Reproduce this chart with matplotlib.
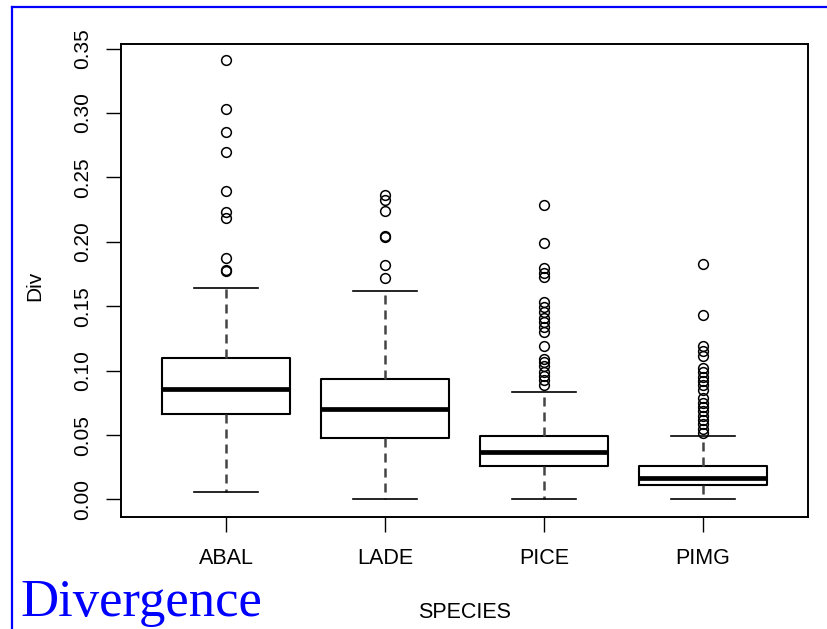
import matplotlib
matplotlib.use("Agg")
import matplotlib.pyplot as plt
from matplotlib.lines import Line2D

plt.rcParams["font.family"] = ["Liberation Sans", "DejaVu Sans"]
plt.rcParams["lines.scale_dashes"] = False

# Divergence summary per species
species = ["ABAL", "LADE", "PICE", "PIMG"]
whisker_low = [0.0059, 0.0000, 0.0000, 0.0000]
q1 = [0.0664, 0.0480, 0.0259, 0.0111]
median = [0.0859, 0.0703, 0.0366, 0.0168]
q3 = [0.1098, 0.0934, 0.0495, 0.0259]
whisker_high = [0.1643, 0.1617, 0.0838, 0.0493]

outliers_abal = [0.3408, 0.3033, 0.2854, 0.2695, 0.2396, 0.2228, 0.2189,
                 0.1877, 0.1782, 0.1770]
outliers_lade = [0.2362, 0.2326, 0.2240, 0.2045, 0.2035, 0.1817, 0.1721]
outliers_pice = [0.2284, 0.1994, 0.1794, 0.1760, 0.1729, 0.1531, 0.1492,
                 0.1453, 0.1410, 0.1375, 0.1340, 0.1298, 0.1194, 0.1090,
                 0.1064, 0.1038, 0.0986, 0.0955, 0.0924, 0.0890]
outliers_pimg = [0.1825, 0.1435, 0.1189, 0.1150, 0.1116, 0.1020, 0.0986,
                 0.0952, 0.0919, 0.0885, 0.0851, 0.0786, 0.0752, 0.0718,
                 0.0685, 0.0651, 0.0617, 0.0583, 0.0550, 0.0516]
outliers = [outliers_abal, outliers_lade, outliers_pice, outliers_pimg]

yticks = [0.00, 0.05, 0.10, 0.15, 0.20, 0.25, 0.30, 0.35]
ytick_labels = ["0.00", "0.05", "0.10", "0.15", "0.20", "0.25", "0.30", "0.35"]

W, H = 828, 629
fig = plt.figure(figsize=(W / 100, H / 100), dpi=100)


def fx(px):
    return px / W


def fy(py):
    return 1 - py / H


ax_l, ax_r, ax_t, ax_b = 121, 808, 44, 517
ax = fig.add_axes([fx(ax_l), fy(ax_b), fx(ax_r - ax_l), (ax_b - ax_t) / H])

stats = []
for i, name in enumerate(species):
    stats.append(dict(label=name, whislo=whisker_low[i], q1=q1[i],
                      med=median[i], q3=q3[i], whishi=whisker_high[i],
                      fliers=outliers[i]))

positions = list(range(1, len(species) + 1))
ax.bxp(stats, positions=positions, widths=0.8, showfliers=True,
       boxprops=dict(color="black", linewidth=1.5),
       medianprops=dict(color="black", linewidth=3.4, solid_capstyle="butt"),
       whiskerprops=dict(color="#444444", linewidth=1.8,
                         linestyle=(0, (6.5, 4.3))),
       capprops=dict(color="black", linewidth=1.2),
       capwidths=0.4,
       flierprops=dict(marker="o", markersize=7, markerfacecolor="none",
                       markeredgecolor="black", markeredgewidth=1.1,
                       linestyle="none"))

ax.set_xlim(0.34, 4.66)
ax.set_ylim(-0.0136, 0.3536)
ax.set_xticks(positions)
ax.set_xticklabels(species, fontsize=15.5)
ax.set_yticks(yticks)
ax.set_yticklabels(ytick_labels, fontsize=15, rotation=90, va="center")
ax.tick_params(axis="both", direction="out", length=10.5, width=1.0,
               color="black")
ax.tick_params(axis="x", pad=12)
ax.tick_params(axis="y", pad=10)
for sp in ax.spines.values():
    sp.set_linewidth(1.4)
    sp.set_color("black")

fig.text(fx((ax_l + ax_r) / 2), fy(613), "SPECIES", fontsize=15.5,
         ha="center", va="center")
fig.text(fx(35), fy(286), "Div", fontsize=15, rotation=90,
         ha="center", va="center")

fig.text(fx(20), fy(616), "Divergence", fontsize=38, color="#0000ff",
         family=["Liberation Serif", "DejaVu Serif"], ha="left",
         va="baseline")

# Blue frame on the top and left edges
fig.add_artist(Line2D([fx(12.5), fx(12.5)], [0, fy(7)], color="#0000ff",
                      linewidth=1.6, transform=fig.transFigure))
fig.add_artist(Line2D([fx(12.5), 1], [fy(7), fy(7)], color="#0000ff",
                      linewidth=1.6, transform=fig.transFigure))

fig.savefig("out.png", dpi=100)
